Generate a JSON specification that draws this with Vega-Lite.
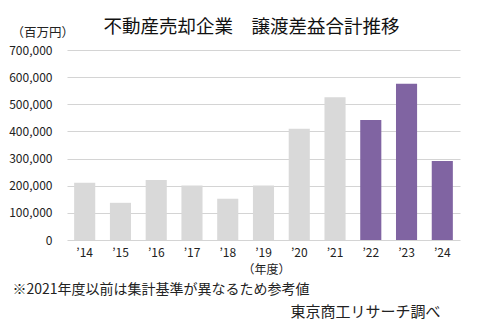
{
  "$schema": "https://vega.github.io/schema/vega-lite/v6.json",
  "width": 393,
  "height": 190,
  "autosize": {"type": "none"},
  "padding": {"left": 67, "top": 50, "right": 40, "bottom": 89},
  "background": "white",
  "title": {
    "text": "不動産売却企業　譲渡差益合計推移",
    "font": "Noto Sans CJK JP",
    "fontSize": 18.5,
    "fontWeight": "normal",
    "color": "#111111",
    "anchor": "middle",
    "dx": -12,
    "offset": -10
  },
  "data": {
    "values": [
      {"year": "’14", "value": 211000, "basis": "old"},
      {"year": "’15", "value": 137000, "basis": "old"},
      {"year": "’16", "value": 221000, "basis": "old"},
      {"year": "’17", "value": 201000, "basis": "old"},
      {"year": "’18", "value": 152000, "basis": "old"},
      {"year": "’19", "value": 201000, "basis": "old"},
      {"year": "’20", "value": 410000, "basis": "old"},
      {"year": "’21", "value": 526000, "basis": "old"},
      {"year": "’22", "value": 442000, "basis": "new"},
      {"year": "’23", "value": 576000, "basis": "new"},
      {"year": "’24", "value": 291000, "basis": "new"}
    ]
  },
  "config": {
    "view": {"stroke": null},
    "axis": {"labelFont": "Noto Sans CJK JP", "titleFont": "Noto Sans CJK JP", "labelColor": "#222222", "titleColor": "#222222", "titleFontWeight": "normal"}
  },
  "resolve": {"axis": {"x": "independent", "y": "independent"}},
  "layer": [
    {
      "mark": {"type": "bar"},
      "encoding": {
        "x": {
          "field": "year", "type": "ordinal", "sort": null,
          "scale": {"paddingInner": 0.41, "paddingOuter": 0.2},
          "axis": {
            "orient": "bottom",
            "labelAngle": 0, "labelFontSize": 12, "labelPadding": 7,
            "ticks": false, "domain": false,
            "title": "（年度）", "titleFontSize": 12,
            "titleX": 199, "titleY": 29, "titleAlign": "center", "titleBaseline": "middle"
          }
        },
        "y": {
          "field": "value", "type": "quantitative",
          "scale": {"domain": [0, 700000]},
          "axis": {
            "orient": "left",
            "values": [0, 100000, 200000, 300000, 400000, 500000, 600000, 700000],
            "format": ",d",
            "labelFontSize": 12, "labelPadding": 15, "labelOverlap": false,
            "ticks": false, "domain": false,
            "gridColor": "#d4d4d4", "gridWidth": 1.2,
            "title": "（百万円）", "titleFontSize": 12.5, "titleAngle": 0,
            "titleX": -56, "titleY": -18, "titleAlign": "left", "titleBaseline": "middle"
          }
        },
        "color": {
          "field": "basis", "type": "nominal",
          "scale": {"domain": ["old", "new"], "range": ["#d9d9d9", "#8064a2"]},
          "legend": null
        }
      }
    },
    {
      "mark": {"type": "bar", "opacity": 0},
      "encoding": {
        "x": {
          "field": "year", "type": "ordinal", "sort": null,
          "axis": {
            "orient": "bottom", "labels": false, "ticks": false, "domain": false, "grid": false,
            "title": "※2021年度以前は集計基準が異なるため参考値", "titleFontSize": 14,
            "titleX": -55, "titleY": 49, "titleAlign": "left", "titleBaseline": "middle"
          }
        },
        "y": {"field": "value", "type": "quantitative", "axis": null}
      }
    },
    {
      "mark": {"type": "bar", "opacity": 0},
      "encoding": {
        "x": {
          "field": "year", "type": "ordinal", "sort": null,
          "axis": {
            "orient": "bottom", "labels": false, "ticks": false, "domain": false, "grid": false,
            "title": "東京商工リサーチ調べ", "titleFontSize": 15,
            "titleX": 223, "titleY": 71, "titleAlign": "left", "titleBaseline": "middle"
          }
        },
        "y": {"field": "value", "type": "quantitative", "axis": null}
      }
    }
  ]
}
